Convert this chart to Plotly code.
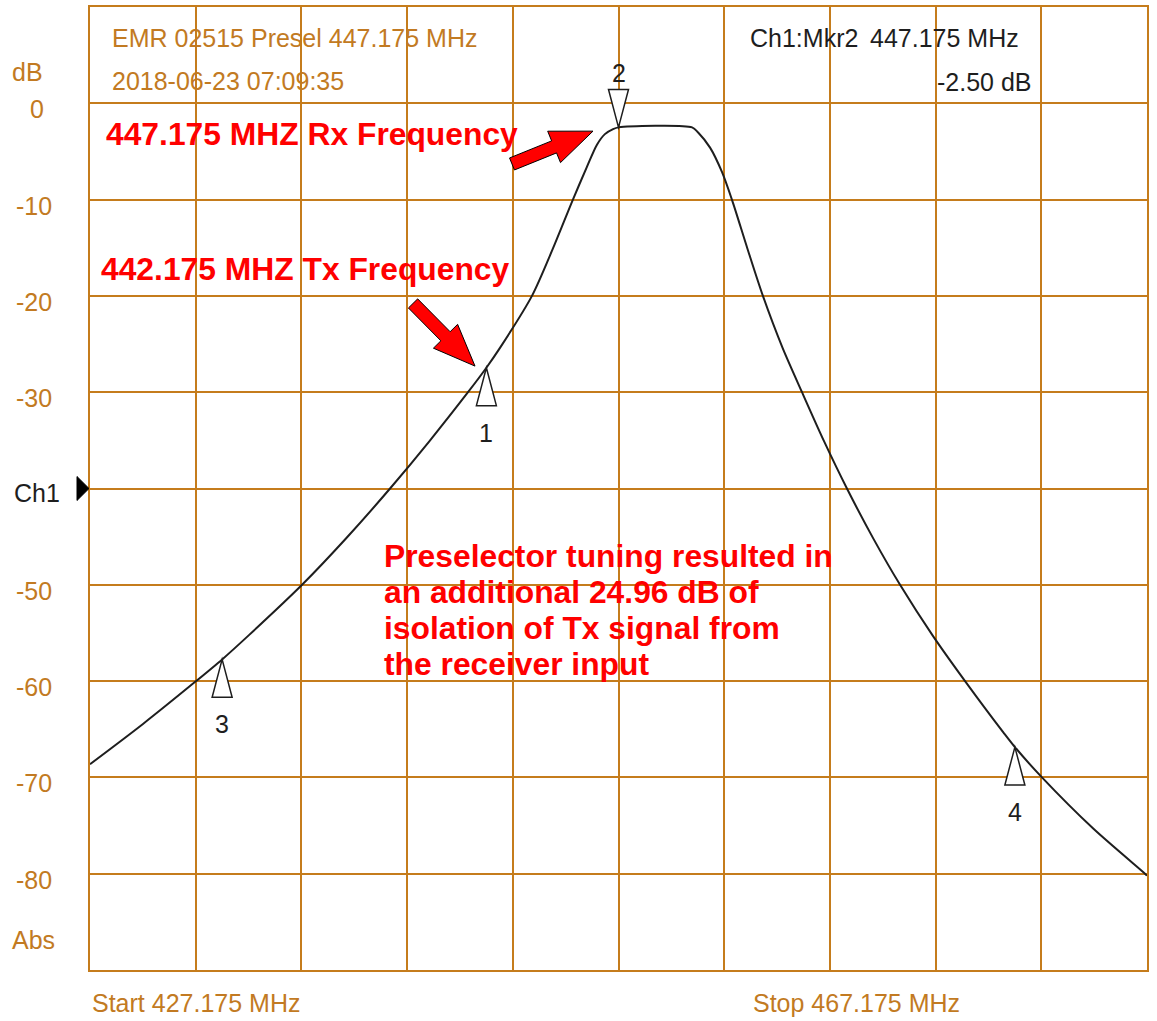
import math
import plotly.graph_objects as go

# ---------------- data ----------------
freq_mhz = [427.175, 429.18, 431.19, 432.175, 433.20, 435.20, 436.87, 438.53, 440.00,
            441.48, 442.175, 442.69, 443.90, 444.675, 445.45, 445.98, 446.36, 446.66,
            446.97, 447.175, 449.96, 450.18, 450.64, 451.09, 451.47, 452.055, 452.64,
            453.38, 454.12, 454.97, 455.82, 456.825, 457.83, 459.06, 460.29, 461.745,
            462.175, 463.20, 465.15, 467.10, 467.175]
level_db = [-68.63, -64.45, -60.00, -57.75, -55.20, -50.00, -45.17, -40.00, -35.15,
            -30.00, -27.46, -25.40, -20.00, -15.20, -10.00, -6.60, -4.30, -3.20,
            -2.69, -2.50, -2.50, -3.00, -4.60, -7.13, -10.03, -15.10, -20.00,
            -25.37, -30.00, -35.19, -40.00, -45.23, -50.00, -55.25, -60.00, -65.35,
            -66.85, -70.00, -75.34, -80.00, -80.20]

marker_ids = ["1", "2", "3", "4"]
marker_freq = [442.175, 447.175, 432.175, 462.175]
marker_db = [-27.46, -2.50, -57.75, -66.85]
marker_dir = ["up", "down", "up", "up"]

y_tick_vals = [0, -10, -20, -30, -50, -60, -70, -80]
y_tick_text = ["0", "-10", "-20", "-30", "-50", "-60", "-70", "-80"]

f_start, f_stop = 427.175, 467.175
db_top, db_bottom = 10, -90

header_title = "EMR 02515 Presel 447.175 MHz"
header_time = "2018-06-23 07:09:35"
mkr_label = "Ch1:Mkr2"
mkr_freq_text = "447.175 MHz"
mkr_level_text = "-2.50 dB"

rx_note = "447.175 MHZ Rx Frequency"
tx_note = "442.175 MHZ Tx Frequency"
iso_lines = ["Preselector tuning resulted in", "an additional 24.96 dB of",
             "isolation of Tx signal from", "the receiver input"]

# arrows (tail, tip) in data units
rx_arrow = ((443.145, -6.30), (446.21, -2.89))
tx_arrow = ((439.40, -20.78), (441.745, -27.29))

# ---------------- layout constants ----------------
W, H = 1157, 1021
ML, MR, MT, MB = 90, 10, 5, 51
PW, PH = W - ML - MR, H - MT - MB
SX = PW / (f_stop - f_start)      # px per MHz
SY = PH / (db_top - db_bottom)    # px per dB

GRID = "#C57C1C"
ORANGE = "#C27A22"
DARK = "#1e1e1e"
RED = "#FF0000"
FONT = "Liberation Sans, Arial, sans-serif"


def px_x(px):
    return (px - ML) / PW


def px_y(py):
    return (H - MB - py) / PH


fig = go.Figure()
fig.add_trace(go.Scatter(x=freq_mhz, y=level_db, mode="lines",
                         line=dict(color=DARK, width=2, shape="spline", smoothing=0.8),
                         hoverinfo="skip", showlegend=False))

shapes = []
annotations = []

# marker triangles
for mid, mf, md, mdir in zip(marker_ids, marker_freq, marker_db, marker_dir):
    hw = 10 / SX
    hh = 38 / SY
    if mdir == "up":
        base = md - hh
        lab_shift = -65
    else:
        base = md + hh
        lab_shift = 54
    path = f"M {mf},{md} L {mf - hw},{base} L {mf + hw},{base} Z"
    shapes.append(dict(type="path", path=path, xref="x", yref="y",
                       fillcolor="white", line=dict(color=DARK, width=1.5), layer="above"))
    annotations.append(dict(x=mf, y=md, xref="x", yref="y", text=mid, showarrow=False,
                            yshift=lab_shift, font=dict(family=FONT, size=25, color=DARK),
                            xanchor="center", yanchor="middle"))


# block arrows
def block_arrow(tail, tip, shaft_w=13, head_w=34, head_len=42):
    tx, ty = tail[0] * SX, tail[1] * SY
    px, py = tip[0] * SX, tip[1] * SY
    L = math.hypot(px - tx, py - ty)
    dx, dy = (px - tx) / L, (py - ty) / L
    nx, ny = -dy, dx
    bx, by = px - dx * head_len, py - dy * head_len
    pts = [(tx + nx * shaft_w / 2, ty + ny * shaft_w / 2),
           (bx + nx * shaft_w / 2, by + ny * shaft_w / 2),
           (bx + nx * head_w / 2, by + ny * head_w / 2),
           (px, py),
           (bx - nx * head_w / 2, by - ny * head_w / 2),
           (bx - nx * shaft_w / 2, by - ny * shaft_w / 2),
           (tx - nx * shaft_w / 2, ty - ny * shaft_w / 2)]
    p = " L ".join(f"{x / SX},{y / SY}" for x, y in pts)
    return "M " + p + " Z"


for arr in (rx_arrow, tx_arrow):
    shapes.append(dict(type="path", path=block_arrow(*arr), xref="x", yref="y",
                       fillcolor=RED, line=dict(color="black", width=1), layer="above"))

# Ch1 reference level triangle
shapes.append(dict(type="path", xref="paper", yref="y",
                   path=f"M {px_x(77)},{-40 + 12 / SY} L {px_x(89)},{-40} L {px_x(77)},{-40 - 12 / SY} Z",
                   fillcolor="black", line=dict(color="black", width=1)))


def txt(text, x, y, xanchor="left", color=ORANGE, size=25, bold=False, yref="paper", yshift=0):
    annotations.append(dict(text=f"<b>{text}</b>" if bold else text, x=x, y=y, xref="paper", yref=yref,
                            xanchor=xanchor, yanchor="middle", showarrow=False, yshift=yshift,
                            font=dict(family=FONT, size=size, color=color)))


# y tick labels
for v, t in zip(y_tick_vals, y_tick_text):
    txt(t, px_x(46 if t == "0" else 54), v, xanchor="right", yref="y", yshift=-6)
txt("dB", px_x(27), px_y(70), xanchor="center")
txt("Abs", px_x(33), px_y(940), xanchor="center")
txt("Ch1", px_x(12), -40, color=DARK, yref="y", yshift=-4)

# header / footer
txt(header_title, px_x(110), px_y(36))
txt(header_time, px_x(110), px_y(79))
txt(mkr_label, px_x(748), px_y(36), color=DARK)
txt(mkr_freq_text, px_x(1021), px_y(36), xanchor="right", color=DARK)
txt(mkr_level_text, px_x(1034), px_y(80), xanchor="right", color=DARK)
txt(f"Start {f_start:.3f} MHz", px_x(90), px_y(1003))
txt(f"Stop {f_stop:.3f} MHz", px_x(751), px_y(1003))

# red notes
txt(rx_note, px_x(104), px_y(132), color=RED, size=31.8, bold=True)
txt(tx_note, px_x(99), px_y(268), color=RED, size=31.8, bold=True)
for i, line in enumerate(iso_lines):
    txt(line, px_x(382), px_y(555 + 36 * i), color=RED, size=31.8, bold=True)

axis_common = dict(showgrid=True, gridcolor=GRID, gridwidth=2.2, zeroline=False,
                   showline=True, linecolor=GRID, linewidth=2.2, mirror=True,
                   showticklabels=False, ticks="", fixedrange=True)

fig.update_layout(
    width=W, height=H, margin=dict(l=ML, r=MR, t=MT, b=MB),
    paper_bgcolor="white", plot_bgcolor="white",
    xaxis=dict(range=[f_start, f_stop], tick0=f_start, dtick=4, **axis_common),
    yaxis=dict(range=[db_bottom, db_top], tick0=0, dtick=10, **axis_common),
    shapes=shapes, annotations=annotations, showlegend=False,
)

fig.write_html("out.html", config={"displayModeBar": False},
               post_script="document.body.style.margin='0';document.body.style.overflow='hidden';")
